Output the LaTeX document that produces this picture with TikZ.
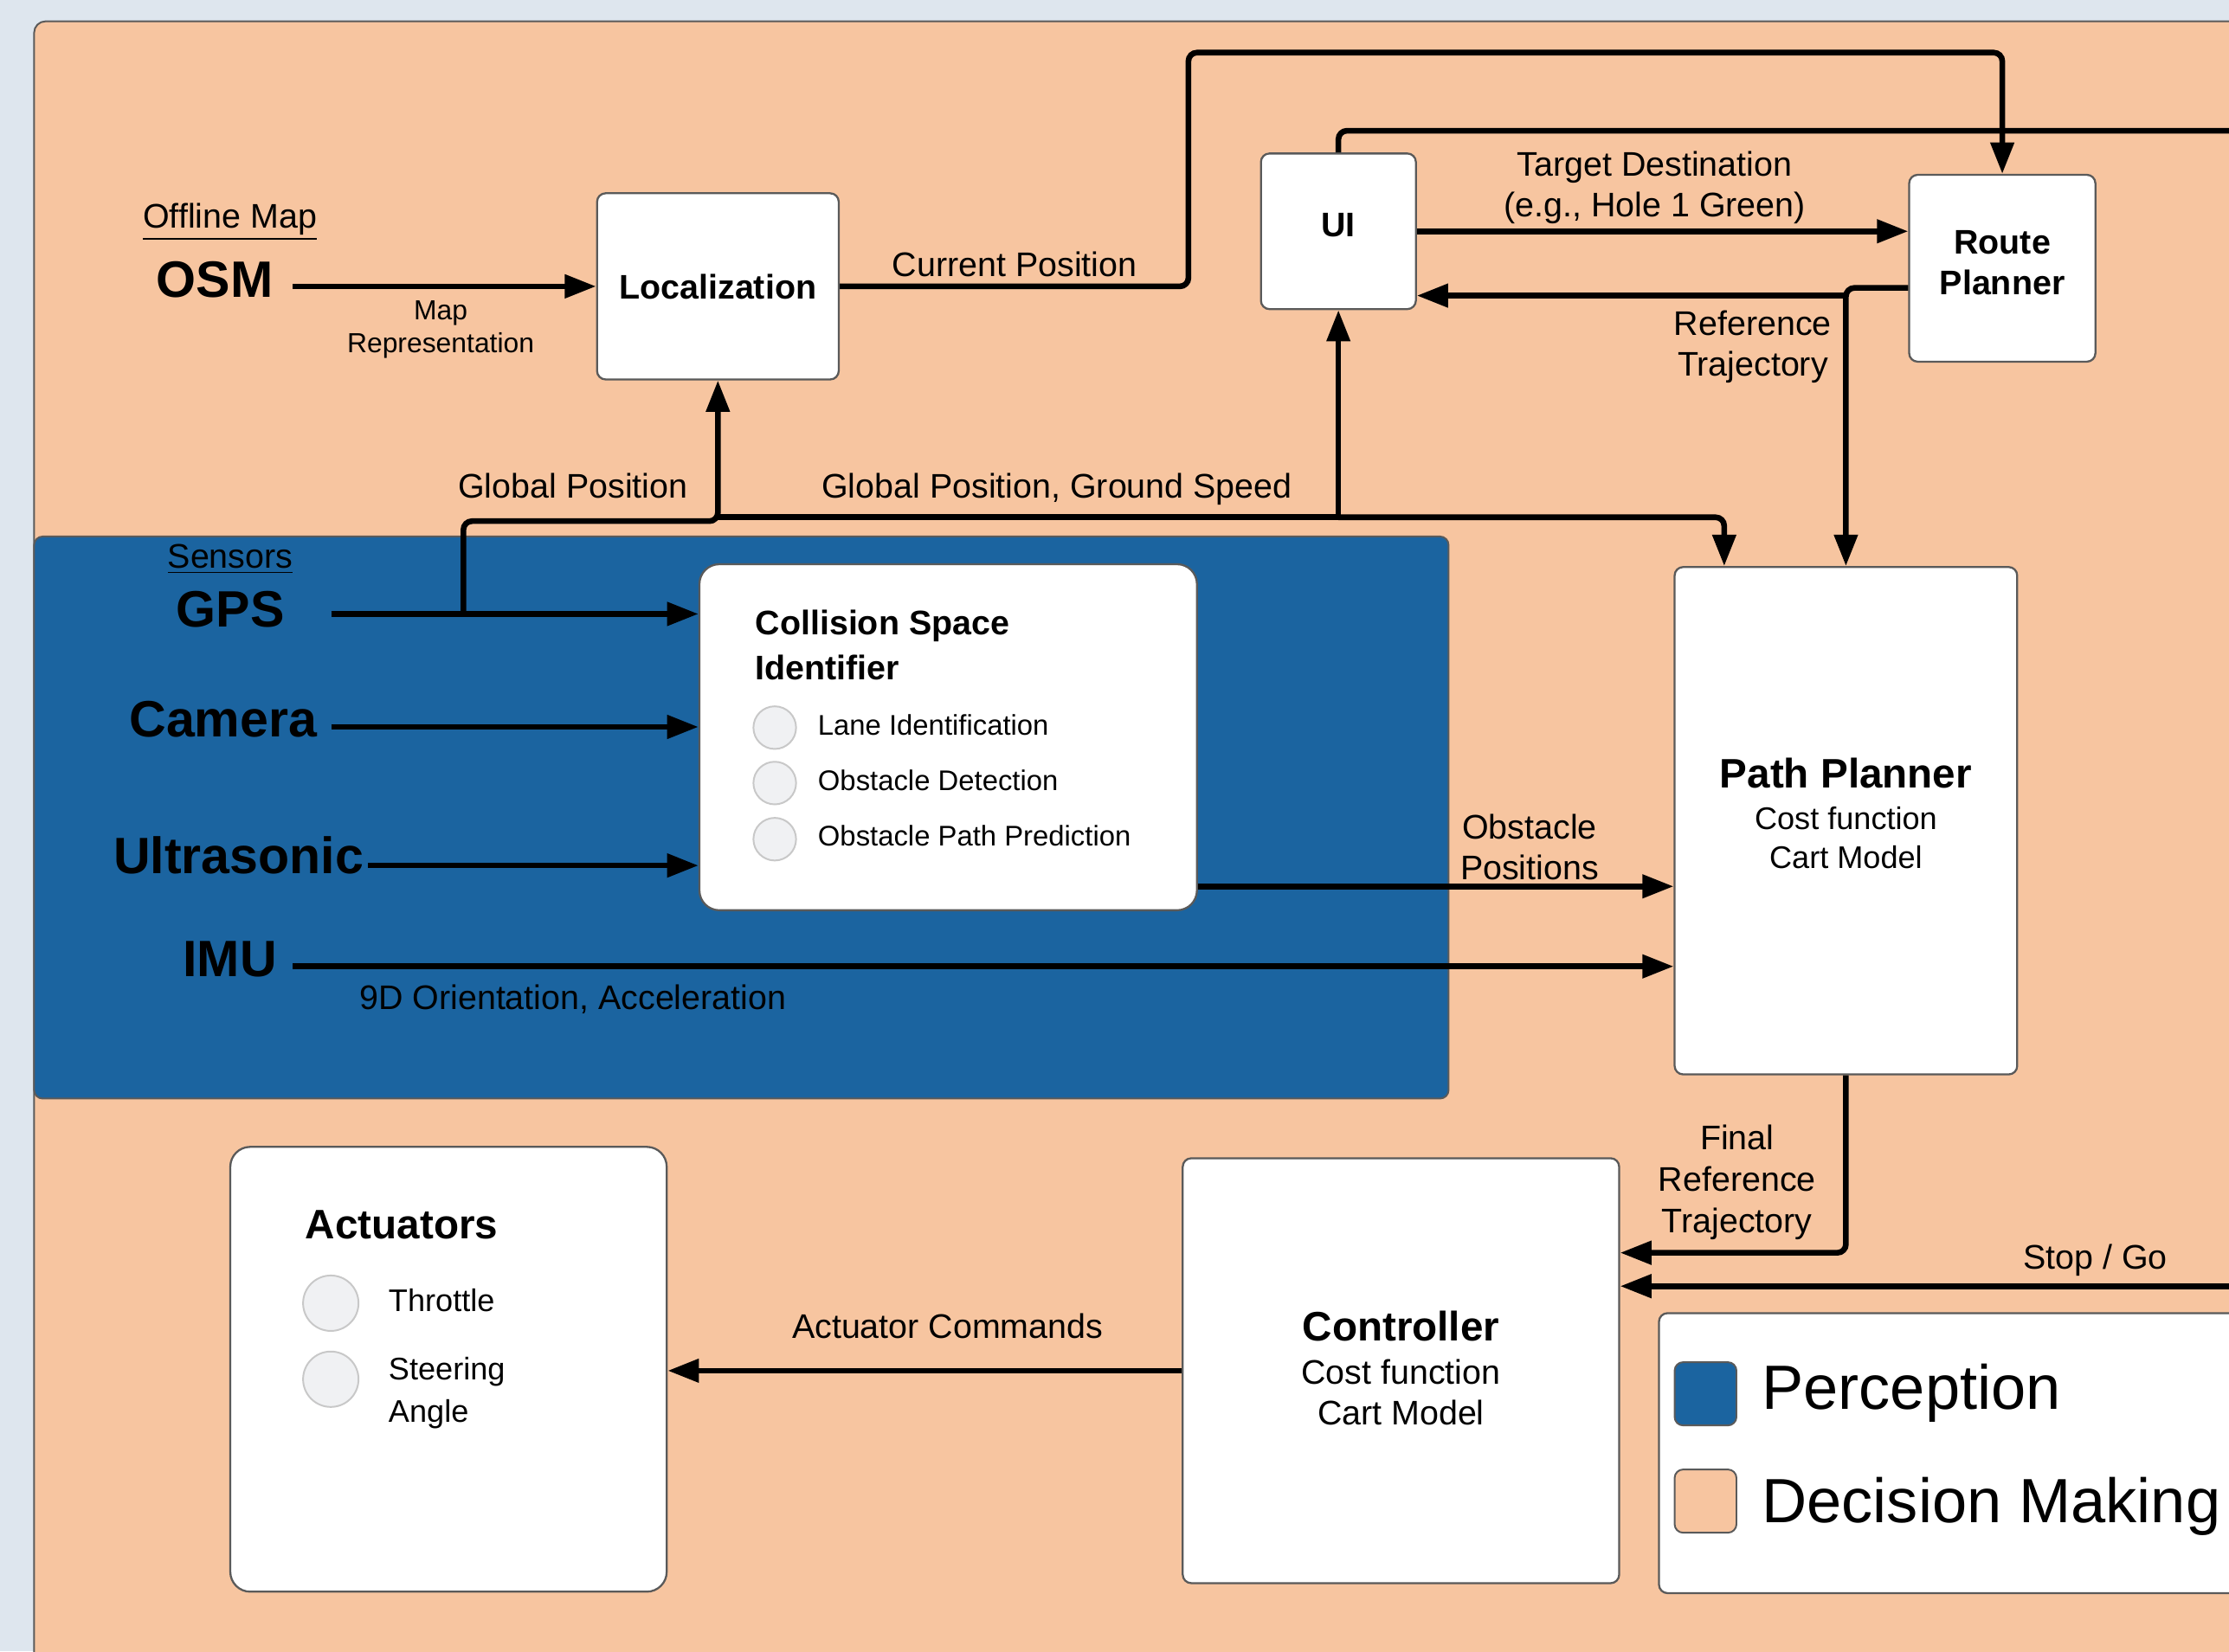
\documentclass[tikz,border=0pt]{standalone}
\usepackage{fontspec}
\setmainfont{Liberation Sans}
\usetikzlibrary{arrows.meta,calc}
\definecolor{bgstrip}{RGB}{222,230,238}
\definecolor{dmorange}{RGB}{247,197,160}
\definecolor{percblue}{RGB}{27,100,160}
\definecolor{boxline}{RGB}{90,90,90}
\definecolor{circfill}{RGB}{240,241,243}
\definecolor{circline}{RGB}{200,200,200}
\begin{document}
\begin{tikzpicture}[x=0.5pt,y=-0.5pt,
 box/.style={draw=boxline, line width=0.7pt, fill=white, rounded corners=3pt, inner sep=0pt},
 roundbox/.style={box, rounded corners=7pt},
 conn/.style={line width=2pt, rounded corners=3pt},
 arr/.style={conn, -{Triangle[length=11pt,width=8pt]}},
 lbl/.style={font=\fontsize{12}{14.5}\selectfont, align=center, inner sep=0pt},
 smalllbl/.style={font=\fontsize{9.7}{11.5}\selectfont, align=center, inner sep=0pt},
 big/.style={font=\fontsize{18}{20}\selectfont\bfseries, inner sep=0pt},
 btitle/.style={font=\fontsize{12}{14.5}\selectfont\bfseries, align=center, inner sep=0pt},
 ltitle/.style={font=\fontsize{14.5}{17}\selectfont\bfseries, align=center, inner sep=0pt},
 sub/.style={font=\fontsize{11}{13.5}\selectfont, align=center, inner sep=0pt},
 itemtxt/.style={font=\fontsize{10}{12}\selectfont, anchor=west, inner sep=0pt},
 bullet/.style={draw=circline, fill=circfill, line width=0.6pt, circle, inner sep=0pt},
 legtxt/.style={font=\fontsize{22}{26}\selectfont, anchor=west, inner sep=0pt},
]
\useasboundingbox (0,0) rectangle (1568,1162);
\clip (0,0) rectangle (1568,1162);
% background regions
\fill[bgstrip] (0,0) rectangle (1568,1162);
\draw[boxline, fill=dmorange, line width=0.6pt, rounded corners=4pt] (24,15) rectangle (1640,1240);
\draw[boxline, fill=percblue, line width=0.6pt, rounded corners=3pt] (24,377.5) rectangle (1019,773);

% boxes
\node[box, minimum width=85pt, minimum height=65.5pt, btitle] (loc) at (505,201.5) {Localization};
\node[box, minimum width=54.5pt, minimum height=54.75pt] (ui) at (941.5,162.75) {};
\node[box, minimum width=65.5pt, minimum height=65.75pt] (rp) at (1408.5,188.75) {};
\node[box, minimum width=120.5pt, minimum height=178.5pt] (pp) at (1298.5,577.5) {};
\node[roundbox, minimum width=175pt, minimum height=121.75pt] (csi) at (667,518.75) {};
\node[box, minimum width=153.5pt, minimum height=149.5pt] (ctrl) at (985.5,964.5) {};
\node[roundbox, minimum width=153.5pt, minimum height=156.5pt] (act) at (315.5,963.5) {};
\node[box, minimum width=226.5pt, minimum height=98.5pt] (legend) at (1393.5,1022.5) {};

% box contents
\node[btitle] (uititle) at (941.5,158.5) {UI};
\node[btitle] (rptitle) at (1408.5,185) {Route\\Planner};

\node[ltitle] (pptitle) at (1298.5,544) {Path Planner};
\node[sub] (ppcost) at (1298.5,576) {Cost function};
\node[sub] (ppcart) at (1298.5,603) {Cart Model};

\node[ltitle] (ctrltitle) at (985.5,933) {Controller};
\node[lbl] (ctrlcost) at (985.5,965.5) {Cost function};
\node[lbl] (ctrlcart) at (985.5,994) {Cart Model};

\node[font=\fontsize{12}{16}\selectfont\bfseries, align=left, inner sep=0pt, anchor=west] (csititle) at (531,454) {Collision Space\\Identifier};
\node[bullet, minimum size=15pt] (b1) at (545,512) {};
\node[bullet, minimum size=15pt] (b2) at (545,551) {};
\node[bullet, minimum size=15pt] (b3) at (545,590.5) {};
\node[itemtxt] (t1) at (575,510) {Lane Identification};
\node[itemtxt] (t2) at (575,549) {Obstacle Detection};
\node[itemtxt] (t3) at (575,588) {Obstacle Path Prediction};

\node[ltitle, anchor=west] (acttitle) at (214.5,862) {Actuators};
\node[bullet, minimum size=19.5pt] (a1) at (232.7,917) {};
\node[bullet, minimum size=19.5pt] (a2) at (232.7,970.5) {};
\node[sub, anchor=west] (thr) at (273,915) {Throttle};
\node[font=\fontsize{11}{14.8}\selectfont, align=left, inner sep=0pt, anchor=west] (steer) at (273,980) {Steering\\Angle};

\node[draw=boxline, line width=0.6pt, fill=percblue, rounded corners=3pt, minimum width=21.75pt, minimum height=22.25pt, inner sep=0pt] (legblue) at (1199.75,980.75) {};
\node[draw=boxline, line width=0.6pt, fill=dmorange, rounded corners=3pt, minimum width=21.75pt, minimum height=22.25pt, inner sep=0pt] (legorange) at (1199.75,1056.25) {};
\node[legtxt] (legperc) at (1239,980) {Perception};
\node[legtxt] (legdm) at (1239,1060) {Decision Making};

% source labels
\node[lbl] (offline) at (161.8,156) {\underline{Offline Map}};
\node[big] (osm) at (151,197) {OSM};
\node[lbl] (sensors) at (162,393.5) {\underline{Sensors}};
\node[big] (gps) at (162,428.5) {GPS};
\node[big] (cam) at (157,506) {Camera};
\node[big] (us) at (167.8,602) {Ultrasonic};
\node[big] (imu) at (161.8,675) {IMU};

% connector start points
\coordinate (osmout) at (206,201.5);
\coordinate (gpsout) at (233,432);
\coordinate (camout) at (233,511.5);
\coordinate (usout) at (259,609);
\coordinate (imuout) at (206,680);
\coordinate (gpsj) at (326,432);
\coordinate (gsj) at (505,364);
\coordinate (cpbend) at (836,37);
\coordinate (uitopend) at (1640,92);
\coordinate (rtj) at (1298.5,208);
\coordinate (sgstart) at (1640,905);
\coordinate (obsout) at ([yshift=8.75pt]csi.south east);
\coordinate (rpout) at ([yshift=-6.9pt]rp.west);
\coordinate (ppin1) at ([xshift=17.8pt]pp.north west);
\coordinate (ctrlin1) at ([yshift=41.5pt]ctrl.east);

% connectors
\draw[arr] (osmout) -- (loc.west);
\draw[arr] (gpsout) -- (gpsout -| csi.west);
\draw[arr] (camout) -- (camout -| csi.west);
\draw[arr] (usout) -- (usout -| csi.west);
\draw[arr] (imuout) -- (imuout -| pp.west);
\draw[arr] (obsout) -- (obsout -| pp.west);
\draw[arr] (gpsj) |- ($(loc.south)+(0,99)$) -- (loc.south);
\draw[conn] (gsj) -- (gsj -| ui.south);
\draw[arr] (gsj -| ui.south) -- (ui.south);
\draw[arr] (gsj -| ui.south) -| (ppin1);
\draw[arr] (loc.east) -| (cpbend) -| (rp.north);
\draw[conn] (ui.north) |- (uitopend);
\draw[arr] (ui.east) -- (ui.east -| rp.west);
\draw[arr] (rpout) -| (pp.north);
\draw[arr] (rtj) -- (rtj -| ui.east);
\draw[arr] (pp.south) |- (ctrlin1);
\draw[arr] (sgstart) -- (sgstart -| ctrl.east);
\draw[arr] (ctrl.west) -- (ctrl.west -| act.east);

% connector labels
\node[smalllbl] (maprep) at (310,232) {Map\\Representation};
\node[lbl] (curpos) at (713.7,185.7) {Current Position};
\node[lbl] (globpos) at (403,342) {Global Position};
\node[lbl] (globgs) at (743.5,344) {Global Position, Ground Speed};
\node[lbl] (target) at (1164,132) {Target Destination\\(e.g., Hole 1 Green)};
\node[lbl] (reftraj) at (1233,244) {Reference\\Trajectory};
\node[lbl] (orient) at (403,703) {9D Orientation, Acceleration};
\node[lbl] (obspos) at (1076,596) {Obstacle\\Positions};
\node[lbl] (finalref) at (1222,832) {Final\\Reference\\Trajectory};
\node[lbl] (stopgo) at (1474,886.5) {Stop / Go};
\node[lbl] (actcmd) at (666.6,933) {Actuator Commands};
\end{tikzpicture}
\end{document}
